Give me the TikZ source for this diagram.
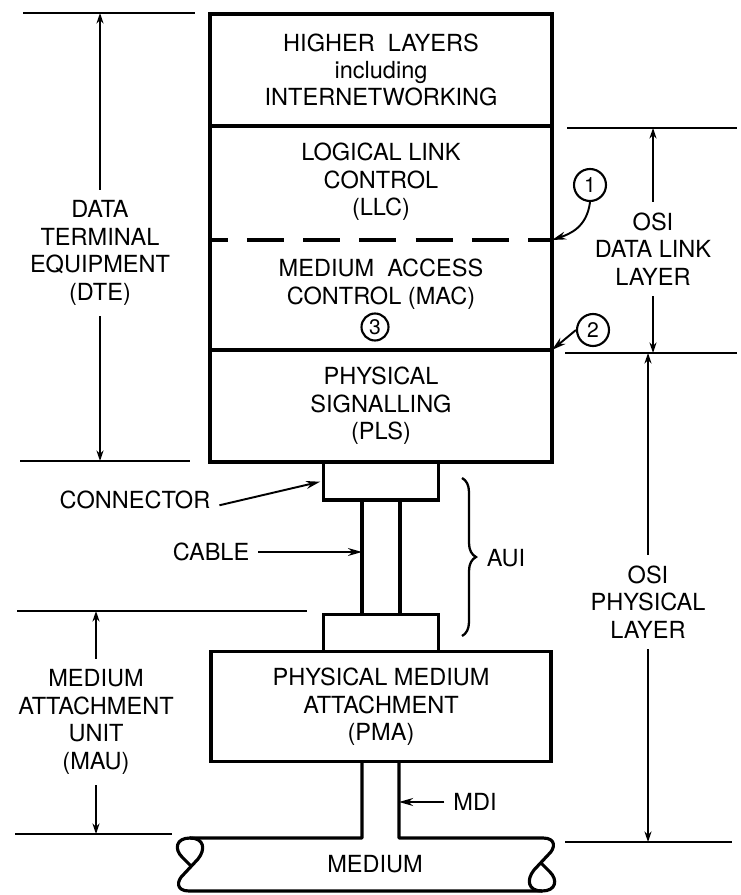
\documentclass[tikz,border=0pt]{standalone}
\usepackage{fontspec}
\setmainfont{TeX Gyre Heros}
\usetikzlibrary{arrows.meta, positioning, decorations.pathreplacing}
\tikzset{
  layer/.style={draw, line width=1.8pt, minimum width=6.84cm, inner sep=0pt,
                outer sep=0pt, align=center},
  plug/.style={draw, line width=1.8pt, inner sep=0pt, outer sep=0pt},
  lbl/.style={align=center, inner xsep=5pt, inner ysep=6pt},
  refline/.style={line width=1.5pt},
  frame/.style={line width=1.8pt, line join=round},
  dim/.style={line width=0.9pt, -{Stealth[length=6pt,width=4pt]}},
  ptr/.style={line width=1.1pt, -{Stealth[length=8pt,width=4.5pt]}},
  num/.style={circle, draw, line width=1.2pt, minimum size=0.64cm, inner sep=0pt,
              font=\fontsize{12}{13}\selectfont},
  brc/.style={line width=1.3pt, decorate, decoration={brace, amplitude=0.28cm}},
}
\begin{document}
\begin{tikzpicture}[x=0.02cm, y=-0.02cm, every node/.style={font=\fontsize{13.4}{15.6}\selectfont}]
  \useasboundingbox (0,0) rectangle (740,895);
  % DTE stack
  \node[layer, minimum height=2.24cm] (higher) at (381,70) {HIGHER~ LAYERS\\including\\INTERNETWORKING};
  \node[layer, minimum height=4.48cm, below=0pt of higher] (dlink) {};
  \node[layer, minimum height=2.24cm, below=0pt of dlink] (pls) {PHYSICAL\\SIGNALLING\\(PLS)};
  \node[lbl] (llc) at (381,182) {LOGICAL LINK\\CONTROL\\(LLC)};
  \node[lbl] (mac) at (381,284) {MEDIUM~ ACCESS\\CONTROL (MAC)};
  \coordinate (sub) at (381,240);
  \draw[line width=1.8pt, dash pattern=on 21pt off 11pt, dash phase=11pt]
    (dlink.west |- sub) -- (dlink.east |- sub);
  % AUI
  \node[plug, minimum width=2.3cm, minimum height=0.76cm, below=0pt of pls] (conn1) {};
  \node[plug, minimum width=0.76cm, minimum height=2.3cm, below=0pt of conn1] (cable) {};
  \node[plug, minimum width=2.3cm, minimum height=0.74cm, below=0pt of cable] (conn2) {};
  % MAU
  \node[layer, minimum width=6.8cm, minimum height=2.2cm, below=0pt of conn2] (pma)
    {PHYSICAL MEDIUM\\ATTACHMENT\\(PMA)};
  % medium
  \coordinate (mdiL) at (362,838);
  \coordinate (mdiR) at (399,838);
  \draw[frame] (mdiL |- pma.south) -- (mdiL) -- (190,838)
    .. controls (176,838) and (174,849) .. (182,857) -- (191,866);
  \draw[frame] (542,891) -- (189,891) .. controls (176,891) and (176,881) .. (184,874)
    -- (198,859) .. controls (206,849) and (204,838) .. (190,838);
  \draw[frame] (mdiR |- pma.south) -- (mdiR) -- (543,838)
    .. controls (556,838) and (556,848) .. (548,855) -- (534,870)
    .. controls (526,880) and (528,891) .. (542,891)
    .. controls (556,891) and (558,880) .. (550,872) -- (541,863);
  \node (medium) at (375,864) {MEDIUM};
  % circled marks
  \node[num] (n1) at (590,185) {1};
  \node[num] (n2) at (593,330) {2};
  \node[num, minimum size=0.54cm] (n3) at (375,327) {3};
  \draw[ptr] (n1.south) .. controls +(-3,25) and +(18,-6) .. (dlink.east |- sub);
  \draw[ptr] (n2.west) -- (dlink.south east);
  % reference lines
  \draw[refline] (23,13) -- (195,13);
  \draw[refline] (20,461) -- (190,461);
  \draw[refline] (17,611) -- (307,611);
  \draw[refline] (15,834) -- (172,834);
  \draw[refline] (567,128) -- (737,128);
  \draw[refline] (565,353) -- (737,353);
  \draw[refline] (565,842) -- (732,842);
  % left extents
  \node[lbl] (dte) at (100,253) {DATA\\TERMINAL\\EQUIPMENT\\(DTE)};
  \coordinate (dteT) at (100,13);
  \coordinate (dteB) at (100,461);
  \draw[dim] (dte) -- (dteT);
  \draw[dim] (dte) -- (dteB);
  \node[lbl] (mau) at (96,722) {MEDIUM\\ATTACHMENT\\UNIT\\(MAU)};
  \coordinate (mauT) at (96,611);
  \coordinate (mauB) at (96,834);
  \draw[dim] (mau) -- (mauT);
  \draw[dim] (mau) -- (mauB);
  % right extents
  \node[lbl] (osidl) at (653,249) {OSI\\DATA LINK\\LAYER};
  \coordinate (dlT) at (653,128);
  \coordinate (dlB) at (653,353);
  \draw[dim] (osidl) -- (dlT);
  \draw[dim] (osidl) -- (dlB);
  \node[lbl] (osiph) at (648,602) {OSI\\PHYSICAL\\LAYER};
  \coordinate (phT) at (648,353);
  \coordinate (phB) at (648,842);
  \draw[dim] (osiph) -- (phT);
  \draw[dim] (osiph) -- (phB);
  % pointers
  \node[lbl] (cnlbl) at (135,500) {CONNECTOR};
  \draw[ptr, shorten >=2pt] ([yshift=-3pt]cnlbl.east) -- (conn1.west);
  \node[lbl] (cblbl) at (211,552) {CABLE};
  \draw[ptr] (cblbl.east) -- (cblbl.east -| cable.west);
  \node[lbl] (mdilbl) at (475,802) {MDI};
  \draw[ptr] (mdilbl.west) -- (mdilbl.west -| mdiR);
  \draw[brc] (462,478) -- (462,636);
  \node[lbl] (aui) at (506,558) {AUI};
\end{tikzpicture}
\end{document}
